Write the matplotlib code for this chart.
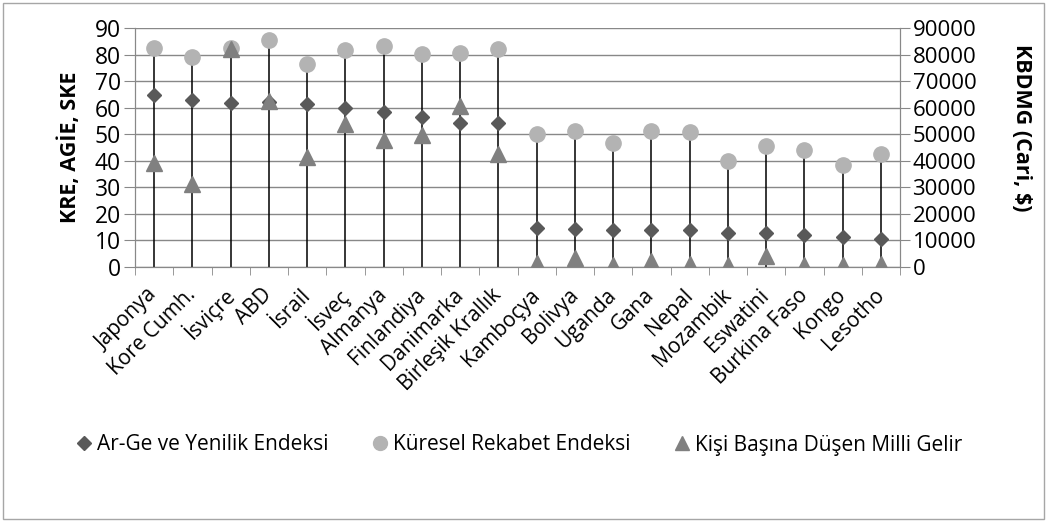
import matplotlib.pyplot as plt
import numpy as np
from matplotlib.lines import Line2D
from matplotlib.patches import Rectangle

plt.rcParams['font.family'] = ['Open Sans', 'DejaVu Sans']

# ülkeler ve değerler
ulkeler = ['Japonya', 'Kore Cumh.', 'İsviçre', 'ABD', 'İsrail', 'İsveç', 'Almanya',
           'Finlandiya', 'Danimarka', 'Birleşik Krallık', 'Kamboçya', 'Bolivya',
           'Uganda', 'Gana', 'Nepal', 'Mozambik', 'Eswatini', 'Burkina Faso',
           'Kongo', 'Lesotho']
arge = [64.9, 63.0, 61.8, 62.0, 61.4, 59.9, 58.4, 56.5, 54.4, 54.2,
        14.7, 14.3, 14.1, 14.1, 13.8, 12.8, 12.8, 12.1, 11.4, 10.5]
rekabet = [82.5, 79.1, 82.5, 85.6, 76.6, 81.6, 83.1, 80.3, 80.6, 82.2,
           50.2, 51.3, 46.7, 51.3, 50.8, 39.8, 45.4, 43.9, 38.3, 42.6]
gelir = [39200, 31250, 82100, 62400, 41300, 53900, 48000, 49800, 60500, 42700,
         1500, 3400, 900, 2100, 1300, 600, 4000, 800, 600, 1200]

W, H = 1048, 522
fig = plt.figure(figsize=(W / 100, H / 100), dpi=100)
fig.patches.append(Rectangle((3 / W, 3 / H), 1 - 7 / W, 1 - 6 / H, transform=fig.transFigure,
                             fill=False, edgecolor='#a6a6a6', linewidth=1))

ax = fig.add_axes([135 / W, 1 - 267 / H, 765 / W, 239 / H])
ax2 = ax.twinx()

x = np.arange(len(ulkeler))
grid_c = '#888888'

# dikey çizgiler (0'dan en üst noktaya)
ax.vlines(x, 0, rekabet, color='black', linewidth=1.1, zorder=2)
ax.plot(x, rekabet, 'o', color='#b3b3b3', markersize=11, zorder=3)
ax.plot(x, arge, 'D', color='#595959', markersize=7.5, zorder=4)
ax2.plot(x, gelir, '^', color='#808080', markersize=11, zorder=5)

ax.set_xlim(-0.5, len(ulkeler) - 0.5)
ax.set_ylim(0, 90)
ax2.set_ylim(0, 90000)
ax.set_yticks(np.arange(0, 91, 10))
ax2.set_yticks(np.arange(0, 90001, 10000))
ax.yaxis.grid(True, color=grid_c, linewidth=1)
ax.set_axisbelow(True)

ax.set_xticks(x)
ax.set_xticklabels(ulkeler, rotation=45, ha='right', va='center', rotation_mode='anchor',
                   fontsize=15)
ax.set_xticks(np.arange(-0.5, len(ulkeler)), minor=True)
ax.tick_params(axis='x', which='major', length=0, pad=18)
ax.tick_params(axis='x', which='minor', length=6, color=grid_c, direction='out')
ax.tick_params(axis='y', labelsize=16.5, length=8, color=grid_c, pad=2)
ax2.tick_params(axis='y', labelsize=16, length=7, color=grid_c, pad=2)
for a in (ax, ax2):
    for s in a.spines.values():
        s.set_color(grid_c)
    a.spines['top'].set_visible(False)

ax.set_ylabel('KRE, AGİE, SKE', fontsize=15.5, fontweight='bold', labelpad=10)
fig.text(1022 / W, 1 - 128 / H, 'KBDMG (Cari, $)', rotation=270, fontsize=15.5,
         fontweight='bold', ha='center', va='center')

handles = [
    Line2D([], [], marker='D', color='#595959', linestyle='none', markersize=7.5),
    Line2D([], [], marker='o', color='#b3b3b3', linestyle='none', markersize=10),
    Line2D([], [], marker='^', color='#808080', linestyle='none', markersize=10),
]
fig.legend(handles, ['Ar-Ge ve Yenilik Endeksi', 'Küresel Rekabet Endeksi',
                     'Kişi Başına Düşen Milli Gelir'],
           loc='center', bbox_to_anchor=(518 / W, 1 - 445 / H), ncol=3, frameon=False,
           fontsize=15, handletextpad=0.1, columnspacing=2.0, handlelength=1.0)

fig.savefig('out.png', dpi=100)
